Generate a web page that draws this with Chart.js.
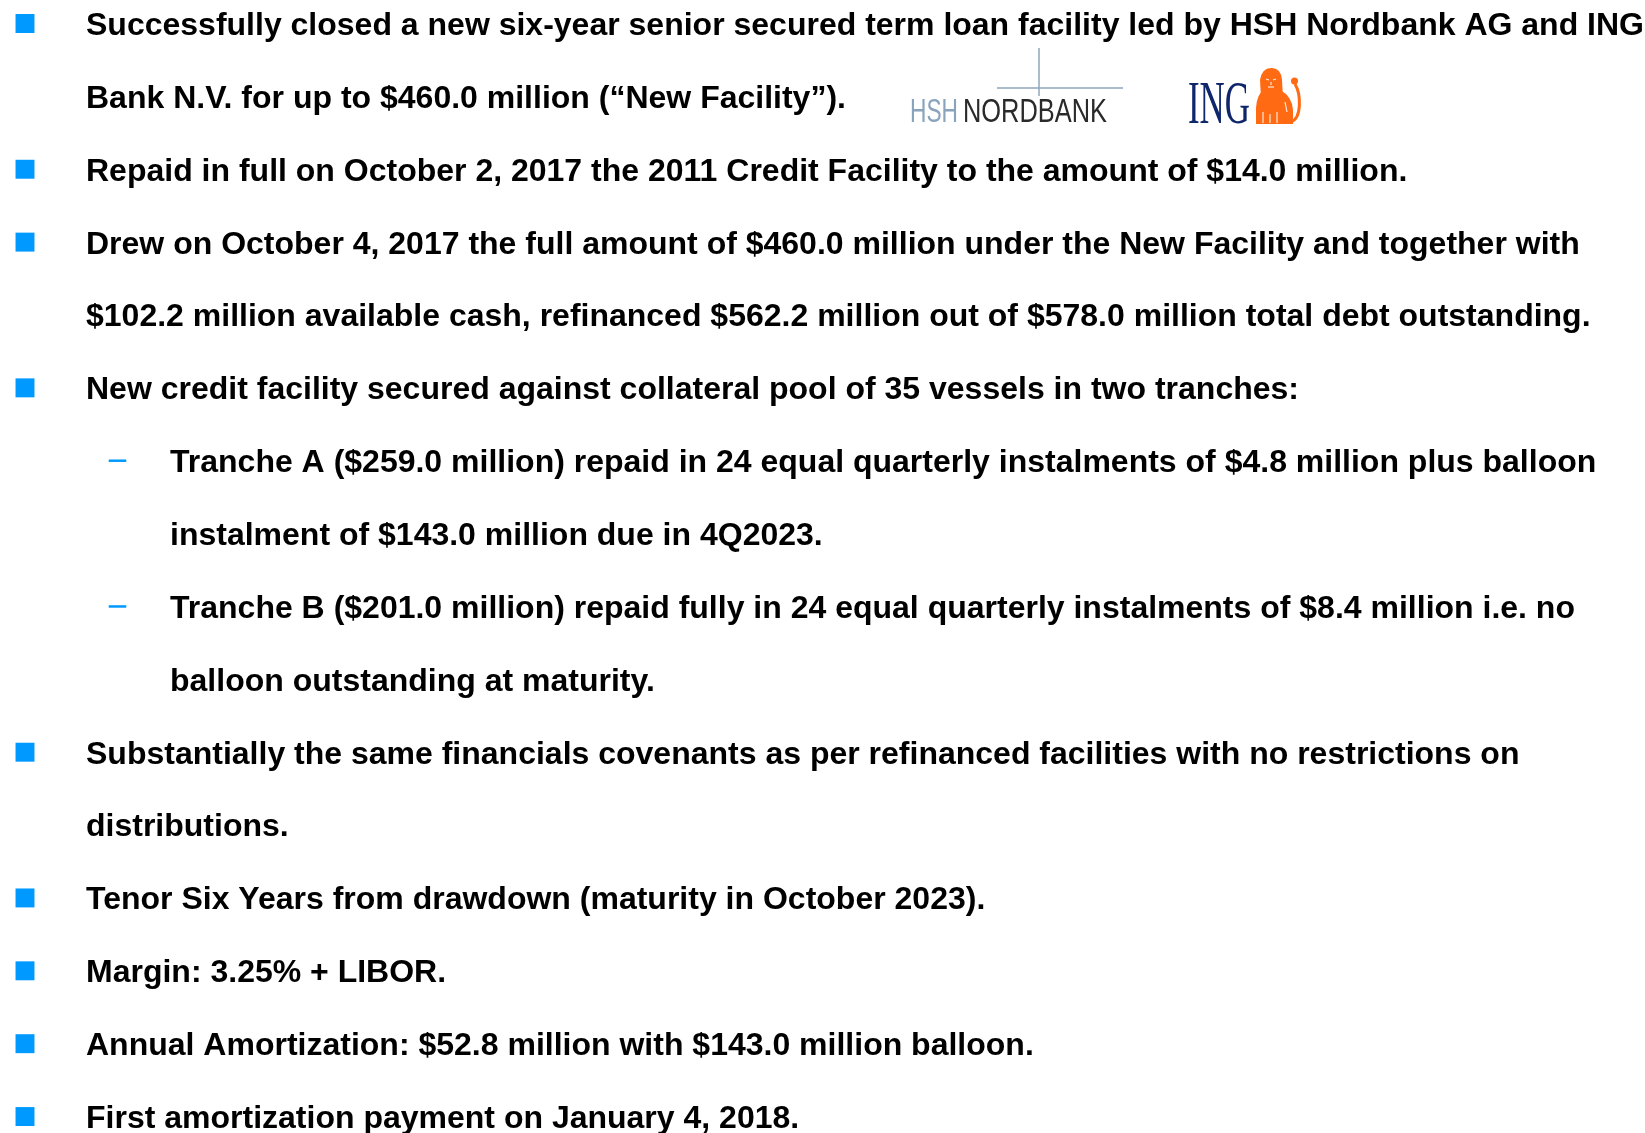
<!DOCTYPE html>
<html>
<head>
<meta charset="utf-8">
<script src="https://cdn.jsdelivr.net/npm/chart.js@4.4.0/dist/chart.umd.min.js"></script>
<style>
  html, body { margin: 0; padding: 0; background: #fff; }
  #wrap { position: relative; width: 1645px; height: 1133px; }
</style>
</head>
<body>
<div id="wrap"><canvas id="slide"></canvas></div>
<script>
// slide lines, one entry per printed row
const lineTexts = [
  "Successfully closed a new six-year senior secured term loan facility led by HSH Nordbank AG and ING",
  "Bank N.V. for up to $460.0 million (\u201cNew Facility\u201d).",
  "Repaid in full on October 2, 2017 the 2011 Credit Facility to the amount of $14.0 million.",
  "Drew on October 4, 2017 the full amount of $460.0 million under the New Facility and together with",
  "$102.2 million available cash, refinanced $562.2 million out of $578.0 million total debt outstanding.",
  "New credit facility secured against collateral pool of 35 vessels in two tranches:",
  "Tranche A ($259.0 million) repaid in 24 equal quarterly instalments of $4.8 million plus balloon",
  "instalment of $143.0 million due in 4Q2023.",
  "Tranche B ($201.0 million) repaid fully in 24 equal quarterly instalments of $8.4 million i.e. no",
  "balloon outstanding at maturity.",
  "Substantially the same financials covenants as per refinanced facilities with no restrictions on",
  "distributions.",
  "Tenor Six Years from drawdown (maturity in October 2023).",
  "Margin: 3.25% + LIBOR.",
  "Annual Amortization: $52.8 million with $143.0 million balloon.",
  "First amortization payment on January 4, 2018.",
];
const lineLevels = [0, 0, 0, 0, 0, 0, 1, 1, 1, 1, 0, 0, 0, 0, 0, 0];
const squareBullets = [0, 2, 3, 5, 10, 12, 13, 14, 15];
const dashBullets = [6, 8];
const logoWords = ["HSH", "NORDBANK", "ING"];

const BLUE = "#0099ff";
const FONT_PX = 32;
const CAP_HALF = 11.4;
const LINE0_WIDTH = 1558;
const TEXT_GAP = [61, 52.5];

// draws a word squeezed/stretched to a given width
const fitText = (ctx, text, left, base, width) => {
  const w = ctx.measureText(text).width;
  ctx.save();
  ctx.translate(left, base);
  ctx.scale(width / w, 1);
  ctx.fillText(text, 0, 0);
  ctx.restore();
};

// rough sitting lion next to the ING letters
const drawLion = (ctx, x0, y0) => {
  ctx.save();
  ctx.translate(x0, y0);
  ctx.fillStyle = "#ff6a13";
  ctx.strokeStyle = "#ff6a13";
  // body and haunch
  ctx.beginPath();
  ctx.moveTo(0, 56);
  ctx.lineTo(0, 40);
  ctx.quadraticCurveTo(1, 26, 8, 22);
  ctx.lineTo(24, 22);
  ctx.quadraticCurveTo(36, 28, 37, 42);
  ctx.lineTo(37, 56);
  ctx.closePath();
  ctx.fill();
  // mane
  ctx.beginPath();
  ctx.moveTo(5, 30);
  ctx.lineTo(4, 12);
  ctx.quadraticCurveTo(6, 0, 15, 0);
  ctx.quadraticCurveTo(25, 0, 26, 12);
  ctx.lineTo(27, 30);
  ctx.closePath();
  ctx.fill();
  // tail
  ctx.lineWidth = 3;
  ctx.beginPath();
  ctx.moveTo(35, 54);
  ctx.bezierCurveTo(46, 50, 45, 26, 39, 16);
  ctx.stroke();
  ctx.beginPath();
  ctx.arc(38.5, 13, 3.5, 0, Math.PI * 2);
  ctx.fill();
  // light details
  ctx.strokeStyle = "rgba(255,255,255,0.85)";
  ctx.lineWidth = 1.2;
  [[10, 11, 13, 12], [17, 12, 20, 11], [12, 19, 18, 19], [15, 14, 15, 17],
   [7, 44, 7, 55], [14, 46, 14, 55], [21, 44, 21, 55], [29, 34, 31, 44]].forEach(([a, b, c, d]) => {
    ctx.beginPath();
    ctx.moveTo(a, b);
    ctx.lineTo(c, d);
    ctx.stroke();
  });
  ctx.restore();
};

const drawLogos = (ctx) => {
  // HSH Nordbank cross
  ctx.save();
  ctx.strokeStyle = "rgba(110,135,165,0.75)";
  ctx.lineWidth = 1.5;
  ctx.beginPath();
  ctx.moveTo(1039, 48);
  ctx.lineTo(1039, 96);
  ctx.moveTo(997, 88);
  ctx.lineTo(1123, 88);
  ctx.stroke();
  ctx.font = '33px "Liberation Sans", Arial, sans-serif';
  ctx.fillStyle = "#8aa3bd";
  fitText(ctx, logoWords[0], 910, 122, 48);
  ctx.fillStyle = "#2a2a2a";
  fitText(ctx, logoWords[1], 963, 122, 144);
  // ING
  ctx.font = '62px "Liberation Serif", "Times New Roman", serif';
  ctx.fillStyle = "#10266b";
  fitText(ctx, logoWords[2], 1188, 123, 62);
  ctx.restore();
  drawLion(ctx, 1256, 68);
};

const slideText = {
  id: "slideText",
  afterDatasetsDraw(chart) {
    const { ctx, scales: { x, y } } = chart;
    ctx.save();
    ctx.font = `bold ${FONT_PX}px "Liberation Sans", Arial, sans-serif`;
    ctx.fillStyle = "#000";
    ctx.textBaseline = "alphabetic";
    const squeeze = LINE0_WIDTH / ctx.measureText(lineTexts[0]).width;
    lineTexts.forEach((text, i) => {
      const lvl = lineLevels[i];
      const left = x.getPixelForValue(lvl) + TEXT_GAP[lvl];
      const base = y.getPixelForValue(i) + CAP_HALF;
      ctx.save();
      ctx.translate(left, base);
      ctx.scale(squeeze, 1);
      ctx.fillText(text, 0, 0);
      ctx.restore();
    });
    drawLogos(ctx);
    ctx.restore();
  },
};

const config = {
  type: "scatter",
  data: {
    datasets: [
      {
        label: "bullets",
        data: squareBullets.map((i) => ({ x: lineLevels[i], y: i })),
        pointStyle: "rect",
        pointRadius: 13.4,
        backgroundColor: BLUE,
        borderWidth: 0,
      },
      {
        label: "dashes",
        data: dashBullets.map((i) => ({ x: lineLevels[i], y: i })),
        pointStyle: "line",
        pointRadius: 8.8,
        borderColor: BLUE,
        borderWidth: 2.5,
      },
    ],
  },
  options: {
    responsive: true,
    maintainAspectRatio: false,
    animation: false,
    events: [],
    layout: { padding: 0, autoPadding: false },
    plugins: {
      legend: { display: false },
      tooltip: { enabled: false },
    },
    scales: {
      x: { type: "linear", display: false, min: -0.2703, max: 17.514 },
      y: { type: "linear", display: false, reverse: true, min: -0.3225, max: 15.2257 },
    },
  },
  plugins: [slideText],
};

new Chart(document.getElementById("slide"), config);
</script>
</body>
</html>
